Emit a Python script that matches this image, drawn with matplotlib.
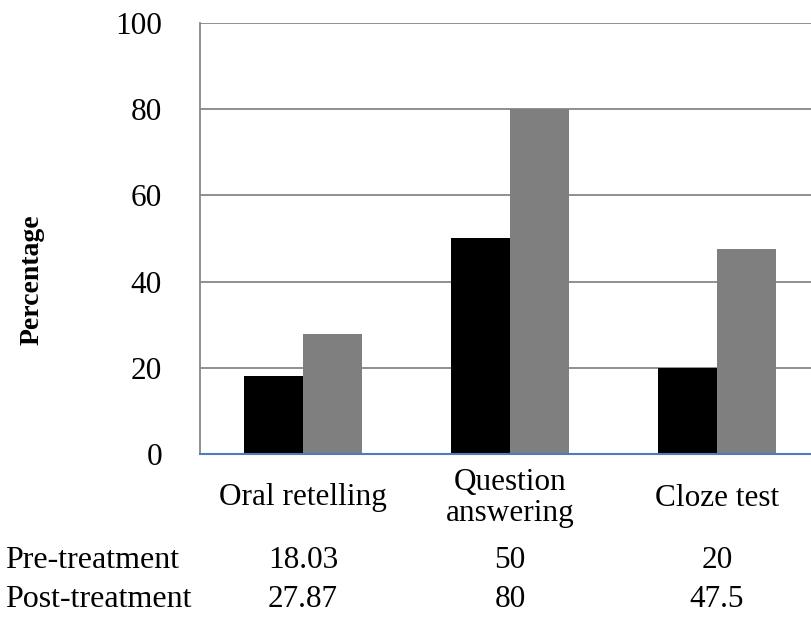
import matplotlib
matplotlib.use("Agg")
import matplotlib.pyplot as plt
import matplotlib.transforms as mtransforms
import numpy as np

categories = ["Oral retelling", "Question\nanswering", "Cloze test"]
series_names = ["Pre-treatment", "Post-treatment"]
pre_values = [18.03, 50, 20]
post_values = [27.87, 80, 47.5]
pre_labels = ["18.03", "50", "20"]
post_labels = ["27.87", "80", "47.5"]
y_ticks = [0, 20, 40, 60, 80, 100]

plt.rcParams['font.family'] = ['Liberation Serif', 'DejaVu Serif']

W, H = 811, 622
fig = plt.figure(figsize=(W / 100, H / 100), dpi=100)
left_px, right_px, top_px, bottom_px = 199.5, 820.5, 23, 454
ax = fig.add_axes([left_px / W, (H - bottom_px) / H,
                   (right_px - left_px) / W, (bottom_px - top_px) / H])

x = np.arange(len(categories))
bw = 1 / 3.5
ax.bar(x - bw / 2, pre_values, width=bw, color="#000000", zorder=3)
ax.bar(x + bw / 2, post_values, width=bw, color="#7f7f7f", zorder=3)

ax.set_xlim(-0.5, len(categories) - 0.5)
ax.set_ylim(0, 100)
ax.set_yticks(y_ticks)
ax.set_yticklabels([str(v) for v in y_ticks], fontsize=22.5)
ax.tick_params(axis='y', length=0, pad=27)
ax.set_xticks([])
ax.grid(axis='y', color="#878787", linewidth=1.3, zorder=0)
ax.set_axisbelow(True)
for s in ["top", "right"]:
    ax.spines[s].set_visible(False)
ax.spines["left"].set_color("#878787")
ax.spines["left"].set_linewidth(1.3)
ax.spines["bottom"].set_color("#4a7ebb")
ax.spines["bottom"].set_linewidth(1.5)
ax.spines["bottom"].set_zorder(4)

trans = mtransforms.blended_transform_factory(ax.transData, fig.transFigure)
for i, c in enumerate(categories):
    ax.text(i, 1 - 498 / H, c, transform=trans, ha="center", va="center",
            fontsize=22.5, linespacing=1.1)

row_base = [568, 607]
for name, labels, yp in zip(series_names, [pre_labels, post_labels], row_base):
    fig.text(5 / W, 1 - yp / H, name, ha="left", va="baseline", fontsize=23)
    for i, lab in enumerate(labels):
        ax.text(i, 1 - yp / H, lab, transform=trans, ha="center",
                va="baseline", fontsize=22.5)

fig.text(32 / W, 1 - 280 / H, "Percentage", rotation=90, ha="center",
         va="center", fontsize=20, fontweight="bold")

fig.savefig("out.png", dpi=100)
